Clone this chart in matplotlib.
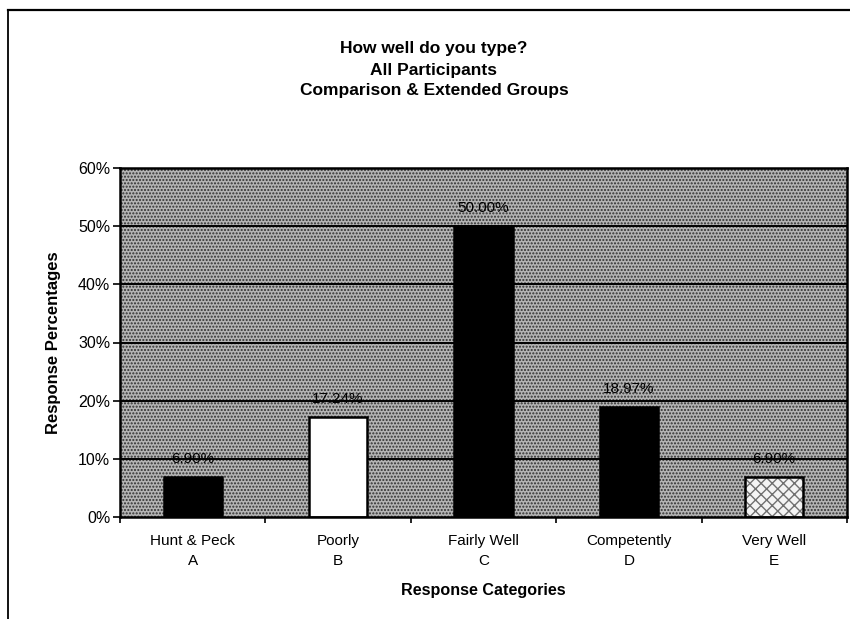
import matplotlib.pyplot as plt
from matplotlib.lines import Line2D
import numpy as np

plt.rcParams['font.family'] = ['Liberation Sans', 'DejaVu Sans']
plt.rcParams['hatch.linewidth'] = 1.0

# Survey results: "How well do you type?"
categories = ['Hunt & Peck\nA', 'Poorly\nB', 'Fairly Well\nC', 'Competently\nD', 'Very Well\nE']
percent = [6.90, 17.24, 50.00, 18.97, 6.90]
yticks = [0, 10, 20, 30, 40, 50, 60]

W, H = 850, 619
fig = plt.figure(figsize=(W / 100, H / 100), dpi=100)
ax = fig.add_axes([120 / W, 1 - 517 / H, 727 / W, 349 / H])

# dotted grey plot area
ax.set_facecolor('#b4b4b4')
bg = plt.Rectangle((0, 0), 1, 1, transform=ax.transAxes, facecolor='none',
                   edgecolor='#303030', hatch='.....', linewidth=0, zorder=0)
ax.add_patch(bg)

for y in yticks[1:-1]:
    ax.axhline(y, color='black', lw=1.4, zorder=1)

x = np.arange(len(categories))
faces = ['black', 'white', 'black', 'black', '#f4f4f4']
for xi, v, fc in zip(x, percent, faces):
    if fc == '#f4f4f4':
        # light speckled fill for the last bar
        ax.bar(xi, v, width=0.4, color=fc, edgecolor='#707070', linewidth=0,
               hatch='xxx', zorder=2)
        ax.bar(xi, v, width=0.4, color='none', edgecolor='black', linewidth=1.8,
               zorder=2)
    else:
        ax.bar(xi, v, width=0.4, color=fc, edgecolor='black', linewidth=1.8,
               zorder=2)
    ax.text(xi, v + 3.1, f'{v:.2f}%', ha='center', va='center', fontsize=11,
            zorder=3)

ax.set_xlim(-0.5, len(categories) - 0.5)
ax.set_ylim(0, 60)
ax.set_yticks(yticks)
ax.set_yticklabels([f'{t}%' for t in yticks], fontsize=11.5)
ax.set_xticks(np.arange(len(categories) + 1) - 0.5)
ax.set_xticklabels([])
ax.set_xticks(x, minor=True)
ax.set_xticklabels(categories, minor=True, fontsize=11, linespacing=1.55)
ax.tick_params(axis='x', which='minor', length=0, pad=12)
ax.tick_params(axis='x', which='major', direction='out', length=4, width=1.2)
ax.tick_params(axis='y', direction='out', length=5, width=1.2, pad=2)
for s in ax.spines.values():
    s.set_linewidth(1.8)

ax.set_ylabel('Response Percentages', fontsize=12, fontweight='bold', labelpad=12)
ax.set_xlabel('Response Categories', fontsize=11.6, fontweight='bold', labelpad=11)

fig.text(434 / W, 1 - 70 / H,
         'How well do you type?\nAll Participants\nComparison & Extended Groups',
         ha='center', va='center', fontsize=12.5, fontweight='bold', linespacing=1.5)

# page border
fig.add_artist(Line2D([8 / W, 8 / W], [0, 1 - 10 / H], color='black', lw=1.3))
fig.add_artist(Line2D([8 / W, 1], [1 - 10 / H, 1 - 10 / H], color='black', lw=1.6))

fig.savefig('out.png', dpi=100)
